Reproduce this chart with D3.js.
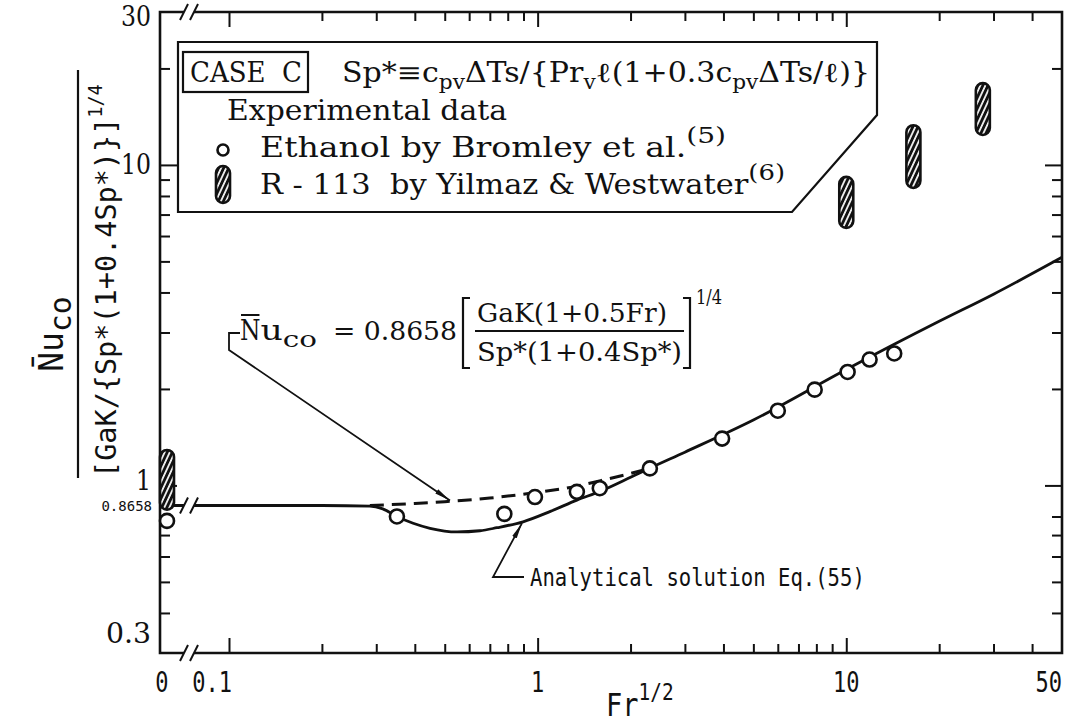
<!DOCTYPE html>
<html>
<head>
<meta charset="utf-8">
<script src="https://cdn.jsdelivr.net/npm/d3@7"></script>
<style>
  body { margin: 0; background: #fff; }
  svg { display: block; }
  text { white-space: pre; }
</style>
</head>
<body>
<script>
// Data (x = Fr^1/2, y = reduced Nu)
const ethanolFr = [0.35, 0.78, 0.98, 1.34, 1.59, 2.31, 3.96, 6.0, 7.9, 10.1, 11.9, 14.3];
const ethanolNu = [0.80, 0.815, 0.92, 0.955, 0.98, 1.13, 1.40, 1.71, 1.99, 2.26, 2.47, 2.58];
const ethanolZeroNu = [0.775];          // data plotted at Fr^1/2 = 0

const r113Fr = [10, 16.5, 27.7];
const r113Lo = [6.36, 8.48, 12.4];
const r113Hi = [9.18, 13.3, 18.0];
const r113ZeroLo = [0.84];               // bar plotted at Fr^1/2 = 0
const r113ZeroHi = [1.29];

const analyticFr = [0.1, 0.2, 0.286, 0.315, 0.35, 0.395, 0.448, 0.548, 0.65, 0.738, 0.897, 1.1, 1.34, 1.6, 2.0, 2.3, 3, 5, 10, 20, 30, 50];
const analyticNu = [0.8658, 0.8658, 0.862, 0.845, 0.80, 0.762, 0.735, 0.716, 0.722, 0.738, 0.77, 0.83, 0.90, 0.96, 1.06, 1.13, 1.27, 1.60, 2.30, 3.25, 3.95, 5.15];

const dashedFr = [0.286, 0.4, 0.5, 0.7, 1.0, 1.34, 1.6, 2.0, 2.3];
const dashedNu = [0.8658, 0.878, 0.89, 0.913, 0.952, 0.995, 1.035, 1.09, 1.13];

const flatNu = 0.8658;

const xMajor = [0.1, 1, 10];
const xMinor = [0.2, 0.3, 0.4, 0.5, 0.6, 0.7, 0.8, 0.9, 2, 3, 4, 5, 6, 7, 8, 9, 20, 30, 40];
const yMajor = [10, 1];
const yMinor = [20, 9, 8, 7, 6, 5, 4, 3, 2, 0.8, 0.7, 0.6, 0.5, 0.4];
const xTickLabels = ["0.1", "1", "10", "50"];
const xTickValues = [0.1, 1, 10, 50];
const yTickLabels = ["30", "10", "1", "0.3"];
const yTickValues = [30, 10, 1, 0.3];

const W = 1088, H = 722;
const pLeft = 160, pRight = 1062, pTop = 12, pBottom = 653;
const serif = "'DejaVu Serif Condensed', 'DejaVu Serif', serif";
const sans = "'DejaVu Sans Mono', monospace";

const x = d3.scaleLog().domain([0.1, 50]).range([229, pRight]);
const y = d3.scaleLog().domain([0.3, 30]).range([pBottom, pTop]);
const xZero = pLeft + 7;   // column for Fr^1/2 = 0 (left of the axis break)
const xp = v => v === 0 ? xZero : x(v);

const svg = d3.select("body").append("svg")
    .attr("width", W)
    .attr("height", H);

const defs = svg.append("defs");
const pat = defs.append("pattern")
    .attr("id", "hatch")
    .attr("patternUnits", "userSpaceOnUse")
    .attr("width", 4.6).attr("height", 4.6)
    .attr("patternTransform", "rotate(25)");
pat.append("rect").attr("width", 4.6).attr("height", 4.6).attr("fill", "#fff");
pat.append("line").attr("x1", 2.3).attr("y1", 0).attr("x2", 2.3).attr("y2", 4.6)
    .attr("stroke", "#111").attr("stroke-width", 2.9);

defs.append("marker")
    .attr("id", "arrow")
    .attr("markerUnits", "userSpaceOnUse")
    .attr("markerWidth", 16).attr("markerHeight", 6)
    .attr("refX", 16).attr("refY", 3)
    .attr("orient", "auto")
    .append("path").attr("d", "M0,0.5 L16,3 L0,5.5 Z").attr("fill", "#111");

// rich text: parts = [[string, "n"|"sub"|"sup"], ...]
function rich(sel, parts, size, small) {
    small = small || 0.72;
    let shift = 0;
    parts.forEach(([s, k]) => {
        const target = k === "sub" ? size * 0.25 : k === "sup" ? -size * 0.5 : 0;
        sel.append("tspan")
            .attr("dy", target - shift)
            .attr("font-size", k === "n" ? size : size * small)
            .text(s);
        shift = target;
    });
    return sel;
}

// text placed in a scaled group; optional fixed length to mimic the typewriter pitch
function stext(parent, px, py, sy, family, size, anchor, len) {
    const t = parent.append("g")
        .attr("transform", "translate(" + px + "," + py + ") scale(1," + sy + ")")
        .append("text")
        .attr("font-family", family)
        .attr("font-size", size)
        .attr("text-anchor", anchor || "start")
        .attr("fill", "#111");
    if (len) t.attr("textLength", len).attr("lengthAdjust", "spacingAndGlyphs");
    return t;
}

// Axes (ticks inward)
function ticks(axis, vals, len, transform) {
    svg.append("g")
        .attr("transform", transform)
        .call(axis.tickValues(vals).tickSize(-len).tickFormat(""))
        .call(g => g.select(".domain").remove())
        .call(g => g.selectAll("line").attr("stroke", "#111").attr("stroke-width", 2));
}
ticks(d3.axisBottom(x), xMinor, 9, "translate(0," + pBottom + ")");
ticks(d3.axisBottom(x), xMajor, 15, "translate(0," + pBottom + ")");
ticks(d3.axisTop(x), xMinor, 9, "translate(0," + pTop + ")");
ticks(d3.axisTop(x), xMajor, 15, "translate(0," + pTop + ")");
ticks(d3.axisLeft(y), yMinor, 10, "translate(" + pLeft + ",0)");
ticks(d3.axisLeft(y), yMajor, 17, "translate(" + pLeft + ",0)");
ticks(d3.axisRight(y), yMinor, 10, "translate(" + pRight + ",0)");
ticks(d3.axisRight(y), yMajor, 17, "translate(" + pRight + ",0)");

// Frame with axis breaks
const brk1 = 184, brk2 = 194;
const frame = svg.append("g").attr("stroke", "#111").attr("stroke-width", 2.6).attr("fill", "none");
frame.append("path").attr("d",
    "M" + brk1 + "," + pTop + " H" + pLeft + " V" + pBottom + " H" + brk1 +
    " M" + brk2 + "," + pBottom + " H" + pRight + " V" + pTop + " H" + brk2);
function slashes(yy) {
    [brk1, brk2].forEach(bx => {
        frame.append("line")
            .attr("x1", bx - 4).attr("y1", yy + 8)
            .attr("x2", bx + 4).attr("y2", yy - 8)
            .attr("stroke-width", 2);
    });
}
slashes(pTop);
slashes(pBottom);

// Tick labels
yTickValues.forEach((v, i) => {
    const dy = v === 30 ? 14 : v === 10 ? 9 : v === 1 ? 5 : -10;
    stext(svg, 151, y(v) + dy, 1.1, serif, 26, "end", yTickLabels[i].length * 15).text(yTickLabels[i]);
});
stext(svg, 152, y(flatNu) + 6, 1, sans, 14, "end").text("0.8658");
xTickValues.forEach((v, i) => {
    const anchor = v === 0.1 || v === 50 ? "end" : "middle";
    stext(svg, x(v) + (v === 0.1 ? 3 : 0), 692, 1.25, sans, 22, anchor).text(xTickLabels[i]);
});
stext(svg, pLeft + 2, 692, 1.25, sans, 22, "middle").text("0");

// x label
rich(stext(svg, 606, 716, 1.15, sans, 27, "start"), [["Fr", "n"], ["1/2", "sup"]], 27);

// y label (rotated fraction)
const yl = svg.append("g").attr("transform", "translate(78,274) rotate(-90)");
yl.append("line").attr("x1", -204).attr("x2", 204).attr("y1", 0).attr("y2", 0)
    .attr("stroke", "#111").attr("stroke-width", 2.2);
rich(yl.append("text").attr("x", -60).attr("y", -15)
        .attr("text-anchor", "middle").attr("font-family", sans).attr("fill", "#111"),
    [["N\u0304u", "n"], ["co", "sub"]], 33, 0.9);
rich(yl.append("text").attr("x", -204).attr("y", 38)
        .attr("font-family", sans).attr("fill", "#111"),
    [["[GaK/{Sp*(1+0.4Sp*)}]", "n"], ["1/4", "sup"]], 28.5, 0.65);

// Curves
const line = d3.line().x(d => x(d[0])).y(d => y(d[1])).curve(d3.curveMonotoneX);
const curves = svg.append("g").attr("fill", "none").attr("stroke", "#111");
curves.append("path")
    .datum(d3.zip(dashedFr, dashedNu))
    .attr("d", line)
    .attr("stroke-width", 3)
    .attr("stroke-dasharray", "14,8");
curves.append("path")
    .datum(d3.zip(analyticFr, analyticNu))
    .attr("d", line)
    .attr("stroke-width", 2.8);
// flat part from Fr^1/2 = 0 across the break
curves.append("path")
    .attr("d", "M" + pLeft + "," + y(flatNu) + " H" + brk1 + " M" + brk2 + "," + y(flatNu) + " H" + x(analyticFr[0]))
    .attr("stroke-width", 2.8);
[brk1, brk2].forEach(bx => {
    curves.append("line")
        .attr("x1", bx - 4).attr("y1", y(flatNu) + 8)
        .attr("x2", bx + 4).attr("y2", y(flatNu) - 8)
        .attr("stroke-width", 2);
});

// R-113 hatched bars
function capsule(g, cx, y1, y2, w) {
    g.append("rect")
        .attr("x", cx - w / 2).attr("y", y1)
        .attr("width", w).attr("height", y2 - y1)
        .attr("rx", w / 2).attr("ry", w / 2)
        .attr("fill", "url(#hatch)")
        .attr("stroke", "#111").attr("stroke-width", 2.6);
}
const bars = svg.append("g");
r113Fr.forEach((f, i) => capsule(bars, xp(f), y(r113Hi[i]), y(r113Lo[i]), 14));
r113ZeroLo.forEach((lo, i) => capsule(bars, xp(0), y(r113ZeroHi[i]), y(lo), 14));

// Ethanol circles
const pts = svg.append("g").attr("fill", "#fff").attr("stroke", "#111").attr("stroke-width", 2.6);
pts.selectAll("circle.e")
    .data(d3.zip(ethanolFr, ethanolNu))
    .join("circle")
    .attr("class", "e")
    .attr("cx", d => xp(d[0]))
    .attr("cy", d => y(d[1]))
    .attr("r", 7);
pts.selectAll("circle.z")
    .data(ethanolZeroNu)
    .join("circle")
    .attr("class", "z")
    .attr("cx", xp(0))
    .attr("cy", d => y(d))
    .attr("r", 7);

// Legend box
const lg = svg.append("g");
lg.append("path")
    .attr("d", d3.line()([[178, 42], [877, 42], [877, 115], [792, 212], [178, 212]]) + "Z")
    .attr("fill", "#fff").attr("stroke", "#111").attr("stroke-width", 2.2);
lg.append("rect").attr("x", 183).attr("y", 52).attr("width", 125).attr("height", 40)
    .attr("fill", "none").attr("stroke", "#111").attr("stroke-width", 2.2);
stext(lg, 190, 82, 1.05, serif, 26, "start", 112).text("CASE\u00a0\u00a0C");
rich(stext(lg, 342, 82, 1.05, serif, 26, "start", 528),
    [["Sp*\u2261c", "n"], ["pv", "sub"], ["\u0394Ts/{Pr", "n"], ["v", "sub"],
     ["\u2113(1+0.3c", "n"], ["pv", "sub"], ["\u0394Ts/\u2113)}", "n"]], 26);
stext(lg, 227, 120, 1.05, serif, 26, "start", 280).text("Experimental data");
lg.append("circle").attr("cx", 223).attr("cy", 150).attr("r", 5.5)
    .attr("fill", "#fff").attr("stroke", "#111").attr("stroke-width", 2.6);
rich(stext(lg, 260, 157, 1.05, serif, 26, "start", 466),
    [["Ethanol by Bromley et al.", "n"], ["(5)", "sup"]], 26, 0.85);
capsule(lg, 223, 166, 203, 14);
rich(stext(lg, 260, 194, 1.05, serif, 26, "start", 525),
    [["R\u00a0-\u00a0113\u00a0\u00a0by Yilmaz & Westwater", "n"], ["(6)", "sup"]], 26, 0.85);

// Equation annotation
const eq = svg.append("g").attr("fill", "#111");
const nGlyph = stext(eq, 240, 340, 1.05, serif, 26, "start").text("N");
const nW = nGlyph.node().getComputedTextLength();
eq.append("line").attr("x1", 241).attr("x2", 240 + nW - 1).attr("y1", 315).attr("y2", 315)
    .attr("stroke", "#111").attr("stroke-width", 2);
rich(stext(eq, 240 + nW, 340, 1.05, serif, 26, "start", 77 - nW),
    [["u", "n"], ["co", "sub"]], 26, 0.85);
stext(eq, 333, 340, 1.05, serif, 25, "start", 124).text("=\u00a00.8658");
stext(eq, 477, 322, 1.05, serif, 25, "start", 190).text("GaK(1+0.5Fr)");
stext(eq, 477, 361, 1.05, serif, 25, "start", 205).text("Sp*(1+0.4Sp*)");
eq.append("line").attr("x1", 475).attr("x2", 684).attr("y1", 331).attr("y2", 331)
    .attr("stroke", "#111").attr("stroke-width", 2);
eq.append("path").attr("d", "M470,298 H463 V368 H470 M683,298 H690 V368 H683")
    .attr("fill", "none").attr("stroke", "#111").attr("stroke-width", 2.2);
stext(eq, 696, 304, 1.05, serif, 19, "start", 26).text("1/4");
eq.append("path")
    .attr("d", "M240,333 H229 V350 L" + x(0.52) + "," + (y(0.885) - 2))
    .attr("fill", "none").attr("stroke", "#111").attr("stroke-width", 1.8)
    .attr("marker-end", "url(#arrow)");

// Analytical solution annotation
const an = svg.append("g");
an.append("path")
    .attr("d", "M524,577 H493 L" + x(0.89) + "," + (y(0.768) + 1))
    .attr("fill", "none").attr("stroke", "#111").attr("stroke-width", 1.8)
    .attr("marker-end", "url(#arrow)");
stext(an, 530, 586, 1.2, sans, 20.6).text("Analytical solution Eq.(55)");
</script>
</body>
</html>
